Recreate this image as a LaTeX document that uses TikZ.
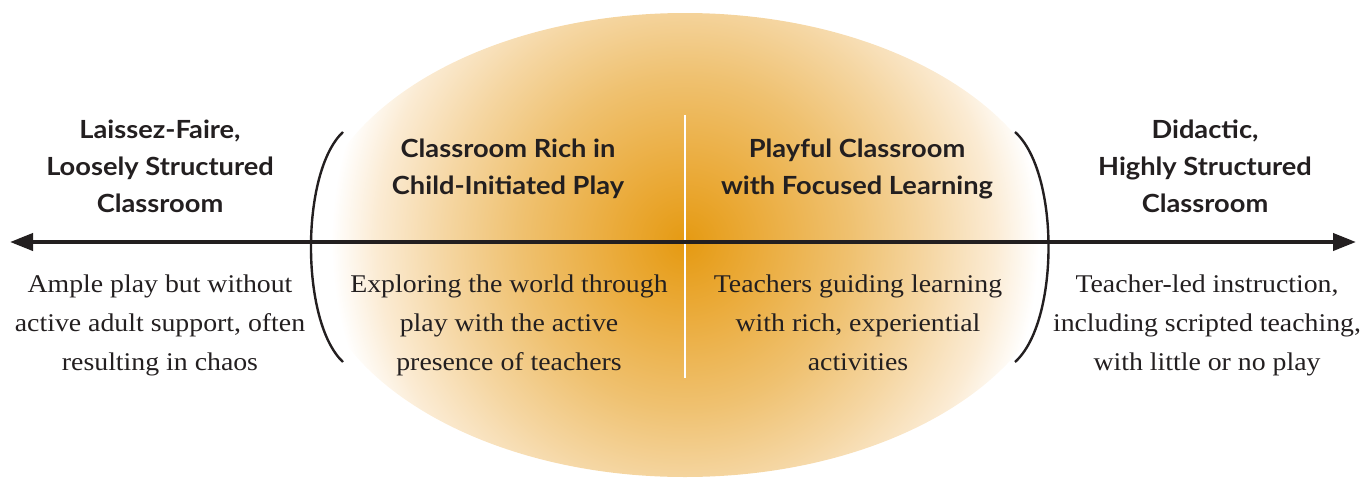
\documentclass[tikz,border=0pt]{standalone}
\usepackage{fontspec}
\setmainfont{Liberation Serif}[FakeStretch=1.09]
\newfontfamily\headfont{Lato}[FakeStretch=1.09]
\usetikzlibrary{arrows.meta}
\definecolor{ink}{HTML}{231F20}
\definecolor{oc0}{HTML}{E59A12}
\definecolor{oc1}{HTML}{EAA936}
\definecolor{oc2}{HTML}{EFC170}
\definecolor{oc3}{HTML}{F5D6A2}
\definecolor{oc4}{HTML}{FBEBD3}
\pgfdeclareradialshading{orb}{\pgfpoint{0bp}{0bp}}{%
  color(0bp)=(oc0); color(8.5bp)=(oc1); color(22bp)=(oc2);
  color(32bp)=(oc3); color(41bp)=(oc4); color(47bp)=(white); color(50bp)=(white)}
\tikzset{
  head/.style={font=\headfont\bfseries\fontsize{25}{37}\selectfont, text=ink, align=center, inner sep=0pt, anchor=base},
  body/.style={font=\fontsize{25.5}{39}\selectfont, text=ink, align=center, inner sep=0pt, anchor=base},
  bracket/.style={draw=ink, line width=2.4pt},
}
\begin{document}
\begin{tikzpicture}[x=1pt,y=-1pt]
\useasboundingbox (0,0) rectangle (1363,477);
% shaded ellipse
\begin{scope}
  \clip (685,245) ellipse [x radius=375, y radius=232];
  \node[inner sep=0pt, scale=7.5] (glow) at (685,242) {\pgfuseshading{orb}};
\end{scope}
% white divider
\coordinate (vt) at (685,115);
\coordinate (vb) at (685,378);
\draw[white, line width=2.5pt] (vt) -- (vb);
% brackets
\coordinate (lt) at (343,132); \coordinate (lb) at (343,362);
\coordinate (rt) at (1015,132); \coordinate (rb) at (1015,362);
\draw[bracket] (lt) .. controls (300.3,172) and (300.3,322) .. (lb);
\draw[bracket] (rt) .. controls (1059.7,172) and (1059.7,322) .. (rb);
% axis arrow
\coordinate (al) at (10,242);
\coordinate (ar) at (1356,242);
\draw[ink, line width=4pt, {Triangle[length=23pt,width=17pt]}-{Triangle[length=23pt,width=17pt]}] (al) -- (ar);
% headings (base = last line)
\node[head] (h1) at (160,212) {Laissez-Faire,\\Loosely Structured\\Classroom};
\node[head] (h2) at (508,194) {Classroom Rich in\\Child-Initiated Play};
\node[head] (h3) at (857,194) {Playful Classroom\\with Focused Learning};
\node[head] (h4) at (1205,212) {Didactic,\\Highly Structured\\Classroom};
% descriptions (base = last line)
\node[body] (b1) at (160,370) {Ample play but without\\active adult support, often\\resulting in chaos};
\node[body] (b2) at (509,370) {Exploring the world through\\play with the active\\presence of teachers};
\node[body] (b3) at (858,370) {Teachers guiding learning\\with rich, experiential\\activities};
\node[body] (b4) at (1207,370) {Teacher-led instruction,\\including scripted teaching,\\with little or no play};
\end{tikzpicture}
\end{document}
